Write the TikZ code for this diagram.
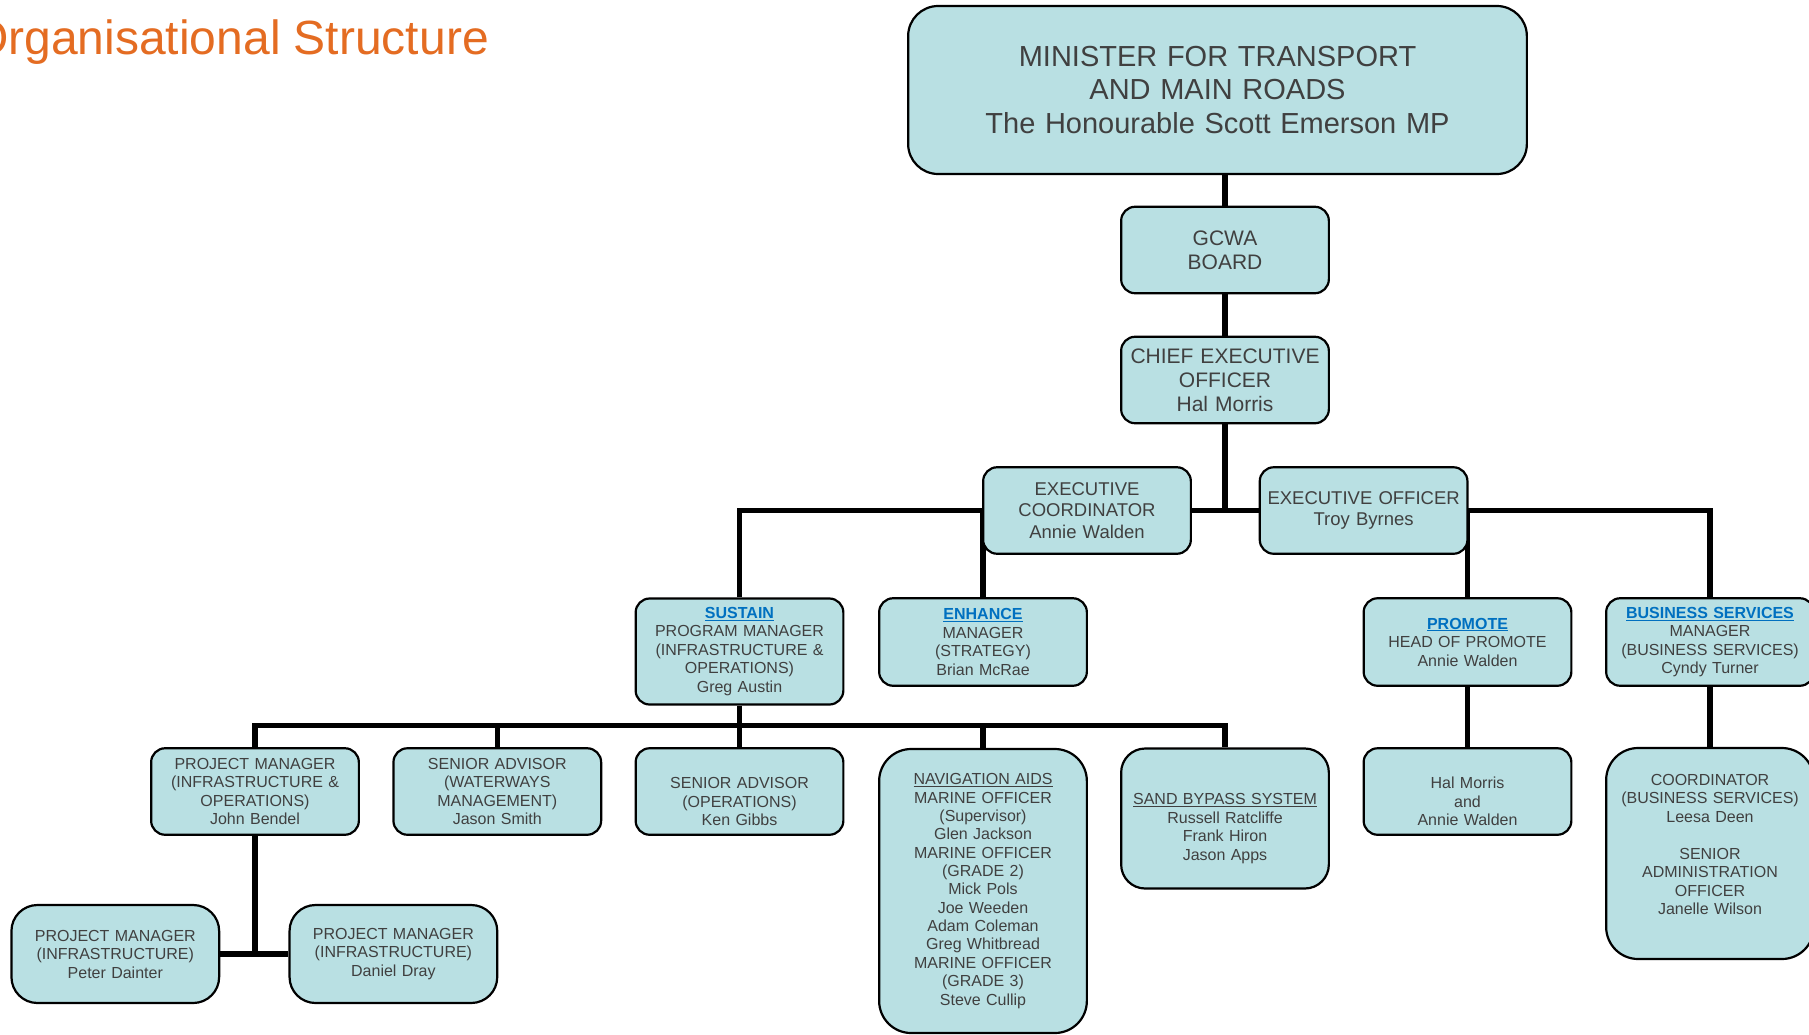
\documentclass[tikz,border=0pt]{standalone}
\usepackage{fontspec}
\setmainfont{Liberation Sans}
\usetikzlibrary{backgrounds}
\definecolor{boxfill}{HTML}{B9E0E3}
\definecolor{txt}{HTML}{404040}
\definecolor{linkblue}{HTML}{0070C0}
\definecolor{titleorange}{HTML}{E46C22}
\newcommand{\lnk}[1]{{\color{linkblue}\bfseries\underline{#1}}}
\tikzset{
  orgbox/.style={draw=black, fill=boxfill, line width=2.2pt, text=txt, align=center,
    text width=200pt, inner xsep=3.85pt, inner ysep=0pt, rounded corners=14pt,
    font=\fontsize{16}{18.5}\selectfont},
  link/.style={line width=5.5pt, draw=black}
}
\begin{document}
\begin{tikzpicture}[x=1pt,y=-1pt]
\clip (0,0) rectangle (1809,1034);

% title
\node[anchor=base east, text=titleorange, font=\fontsize{48}{56}\selectfont, inner sep=0pt] (title) at (489,54) {Organisational Structure};

% connector coordinates
\coordinate (bar3) at (0,510.5);
\coordinate (bar4) at (0,725.7);

\path
  (1217.5,90) coordinate (pmin)
  (1225,250) coordinate (pgcwa)
  (1225,380) coordinate (pceo)
  (1087,510.5) coordinate (pexco)
  (1363.6,510.5) coordinate (pexof)
  (739.5,651.5) coordinate (psustain)
  (983,642) coordinate (penhance)
  (1467.5,642) coordinate (ppromote)
  (1710,642) coordinate (pbus)
  (255,791.5) coordinate (ppmio)
  (497.3,791.5) coordinate (psawm)
  (739.5,791.5) coordinate (psaops)
  (983,891) coordinate (pnav)
  (1225,818.5) coordinate (psand)
  (1467.5,791.5) coordinate (phal)
  (1710,853.5) coordinate (pcoord)
  (115.3,954) coordinate (ppeter)
  (393.4,954) coordinate (pdaniel);

% boxes
\node[orgbox, text width=611pt, minimum height=168pt, rounded corners=30pt,
      font=\fontsize{29}{33.5}\selectfont] (min) at (pmin)
  {MINISTER FOR TRANSPORT\\AND MAIN ROADS\\The Honourable Scott Emerson MP};
\node[orgbox, minimum height=86.5pt, font=\fontsize{21}{24}\selectfont] (gcwa) at (pgcwa) {GCWA\\BOARD};
\node[orgbox, minimum height=86.5pt, font=\fontsize{21}{24}\selectfont] (ceo) at (pceo) {CHIEF EXECUTIVE\\OFFICER\\Hal Morris};
\node[orgbox, minimum height=86.5pt, font=\fontsize{18.5}{21.5}\selectfont] (exco) at (pexco) {EXECUTIVE\\COORDINATOR\\Annie Walden};
\node[orgbox, minimum height=86.5pt, font=\fontsize{18.5}{21.5}\selectfont] (exof) at (pexof) {EXECUTIVE OFFICER\\Troy Byrnes};

\node[orgbox, minimum height=106pt] (sustain) at (psustain) {\lnk{SUSTAIN}\\PROGRAM MANAGER\\(INFRASTRUCTURE \&\\OPERATIONS)\\Greg Austin};
\node[orgbox, minimum height=87.5pt] (enhance) at (penhance) {\lnk{ENHANCE}\\MANAGER\\(STRATEGY)\\Brian McRae};
\node[orgbox, minimum height=87.5pt] (promote) at (ppromote) {\lnk{PROMOTE}\\HEAD OF PROMOTE\\Annie Walden};
\node[orgbox, minimum height=87.5pt] (bus) at (pbus) {\lnk{BUSINESS SERVICES}\\MANAGER\\(BUSINESS SERVICES)\\Cyndy Turner};

\node[orgbox, minimum height=86.5pt] (pmio) at (ppmio) {PROJECT MANAGER\\(INFRASTRUCTURE \&\\OPERATIONS)\\John Bendel};
\node[orgbox, minimum height=86.5pt] (sawm) at (psawm) {SENIOR ADVISOR\\(WATERWAYS\\MANAGEMENT)\\Jason Smith};
\node[orgbox, minimum height=86.5pt] (saops) at (psaops) {\strut\\SENIOR ADVISOR\\(OPERATIONS)\\Ken Gibbs};
\node[orgbox, minimum height=284pt, rounded corners=32pt, font=\fontsize{16}{18.35}\selectfont] (nav) at (pnav)
  {\underline{NAVIGATION AIDS}\\MARINE OFFICER\\(Supervisor)\\Glen Jackson\\MARINE OFFICER\\(GRADE 2)\\Mick Pols\\Joe Weeden\\Adam Coleman\\Greg Whitbread\\MARINE OFFICER\\(GRADE 3)\\Steve Cullip};
\node[orgbox, minimum height=140pt, rounded corners=24pt] (sand) at (psand)
  {\strut\\\underline{SAND BYPASS SYSTEM}\\Russell Ratcliffe\\Frank Hiron\\Jason Apps};
\node[orgbox, minimum height=86.5pt] (hal) at (phal) {\strut\\Hal Morris\\and\\Annie Walden};
\node[orgbox, minimum height=211pt, rounded corners=32pt] (coord) at (pcoord)
  {COORDINATOR\\(BUSINESS SERVICES)\\Leesa Deen\\\mbox{}\\SENIOR\\ADMINISTRATION\\OFFICER\\Janelle Wilson\\\mbox{}};
\node[orgbox, minimum height=98pt, rounded corners=26pt] (peter) at (ppeter) {PROJECT MANAGER\\(INFRASTRUCTURE)\\Peter Dainter};
\node[orgbox, minimum height=98pt, rounded corners=26pt] (daniel) at (pdaniel) {PROJECT MANAGER\\(INFRASTRUCTURE)\\Daniel Dray};

% connectors (behind boxes)
\begin{pgfonlayer}{background}
\fill[white] (0,0) rectangle (1809,1034);
\draw[link] (gcwa.north |- min.south) -- (gcwa.north);
\draw[link] (gcwa.south) -- (ceo.north);
\draw[link] (ceo.south) -- (ceo.south |- bar3);
\draw[link] (sustain.north) -- (sustain.north |- bar3) -- (bus.north |- bar3) -- (bus.north);
\draw[link] (enhance.north) -- (enhance.north |- bar3);
\draw[link] (promote.north) -- (promote.north |- bar3);
\draw[link] (sustain.south) -- (saops.north);
\draw[link] (pmio.north) -- (pmio.north |- bar4) -- (sand.north |- bar4) -- (sand.north);
\draw[link] (sawm.north) -- (sawm.north |- bar4);
\draw[link] (nav.north) -- (nav.north |- bar4);
\draw[link] (promote.south) -- (hal.north);
\draw[link] (bus.south) -- (coord.north);
\draw[link] (pmio.south) -- (pmio.south |- peter.east);
\draw[link] (peter.east) -- (daniel.west);
\end{pgfonlayer}
\end{tikzpicture}
\end{document}
